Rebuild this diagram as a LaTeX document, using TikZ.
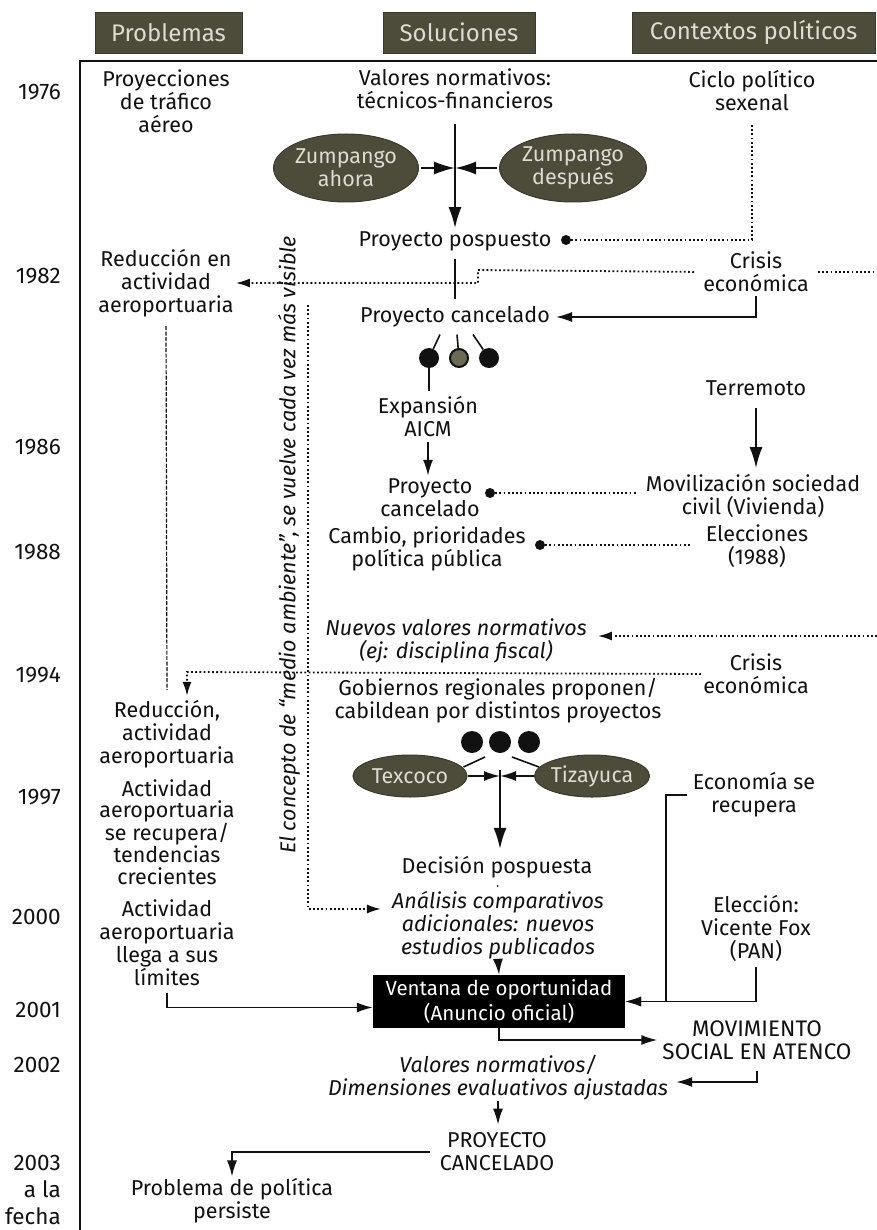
\documentclass[tikz,border=0pt]{standalone}
\usepackage{fontspec}
\setmainfont{Fira Sans}
\usetikzlibrary{shapes.geometric,arrows.meta,calc}
\definecolor{oliv}{HTML}{4D4B3A}
\definecolor{olivd}{HTML}{3A392B}
\definecolor{olivm}{HTML}{6B6A55}
\definecolor{lighttxt}{HTML}{DCDCD2}
\definecolor{ink}{HTML}{111111}
\newcommand\fs{\fontsize{21.5}{23}\selectfont}
\newcommand\hfs{\fontsize{24}{26}\selectfont}
\begin{document}
\begin{tikzpicture}[x=1pt,y=-1pt,
  txt/.style={font=\fs,align=center,inner sep=0pt,text=ink},
  itx/.style={font=\fs\itshape,align=center,inner sep=0pt,text=ink},
  yr/.style={font=\fontsize{22.5}{27}\selectfont,anchor=east,inner sep=0pt,text=ink},
  hdr/.style={draw=olivd,line width=0.8pt,fill=oliv,text=lighttxt,font=\hfs,inner sep=0pt,minimum height=41pt},
  ell/.style={ellipse,draw=olivd,line width=1pt,fill=oliv,text=lighttxt,font=\fs,align=center,inner sep=0pt},
  bdot/.style={circle,fill=ink,inner sep=0pt,minimum size=20pt},
  sdot/.style={circle,fill=ink,inner sep=0pt,minimum size=10pt},
  ln/.style={line width=1.6pt,draw=ink},
  arr/.style={ln,-{Latex[length=16pt,width=10pt]}},
  barr/.style={line width=2pt,draw=ink,-{Latex[length=21pt,width=13pt]}},
  dln/.style={draw=ink,line width=1.8pt,dash pattern=on 1.8pt off 2.4pt},
  darr/.style={dln,-{Latex[length=14pt,width=9pt]}},
  vdash/.style={draw=ink,line width=1.2pt,dash pattern=on 4pt off 1.5pt},
]
\useasboundingbox (0,0) rectangle (877,1230);
\fill[white] (0,0) rectangle (877,1230);

% headers
\node[hdr,minimum width=147pt] (h1) at (168.5,32.5) {Problemas};
\node[hdr,minimum width=152pt] (h2) at (459,32.5) {Soluciones};
\node[hdr,minimum width=243pt] (h3) at (753.5,32.5) {Contextos políticos};

% frame
\draw[line width=1.4pt,ink] (80,1230) -- (80,61) -- (877,61);

% years
\node[yr] (y1) at (61,92) {1976};
\node[yr] (y2) at (61,276) {1982};
\node[yr] (y3) at (61,447) {1986};
\node[yr] (y4) at (61,552) {1988};
\node[yr] (y5) at (61,675) {1994};
\node[yr] (y6) at (61,797) {1997};
\node[yr] (y7) at (61,917) {2000};
\node[yr] (y8) at (61,1010) {2001};
\node[yr] (y9) at (61,1065) {2002};
\node[yr,align=right] (y10) at (61,1190) {2003\\a la\\fecha};

% column: problemas
\node[txt] (p1) at (166,101) {Proyecciones\\de tráfico\\aéreo};
\node[txt] (p2) at (166,283) {Reducción en\\actividad\\aeroportuaria};
\node[txt] (p3) at (167,734) {Reducción,\\actividad\\aeroportuaria};
\node[txt,font=\fontsize{21.5}{21.2}\selectfont] (p4) at (167,832) {Actividad\\aeroportuaria\\se recupera/\\tendencias\\crecientes};
\node[txt] (p5) at (167,943) {Actividad\\aeroportuaria\\llega a sus\\límites};
\node[txt] (p6) at (232,1201) {Problema de política\\persiste};

% column: soluciones
\node[txt] (s1) at (455,89) {Valores normativos:\\técnicos-financieros};
\node[ell,inner xsep=-10pt,minimum width=145pt,minimum height=68pt] (za) at (346,168) {Zumpango\\ahora};
\node[ell,inner xsep=-10pt,minimum width=147pt,minimum height=68pt] (zd) at (573,168) {Zumpango\\después};
\coordinate (j1) at (455,168);
\node[txt] (s2) at (455,241) {Proyecto pospuesto};
\node[sdot] (d1) at (566,240) {};
\node[txt] (s3) at (455,317) {Proyecto cancelado};
\node[bdot] (b1) at (429,358) {};
\node[bdot,fill=olivm,draw=ink,line width=2pt,minimum size=18pt] (b2) at (459,358) {};
\node[bdot] (b3) at (489,358) {};
\node[txt] (s4) at (428,417) {Expansión\\AICM};
\node[txt] (s5) at (430,498) {Proyecto\\cancelado};
\node[sdot] (d2) at (490,493) {};
\node[txt] (s6) at (427,549) {Cambio, prioridades\\política pública};
\node[sdot] (d3) at (540,545) {};
\node[itx] (s7) at (456,641) {Nuevos valores normativos\\(ej: disciplina fiscal)};
\node[txt] (s8) at (498,701) {Gobiernos regionales proponen/\\cabildean por distintos proyectos};
\node[bdot,minimum size=22pt] (c1) at (472,742) {};
\node[bdot,minimum size=22pt] (c2) at (500,742) {};
\node[bdot,minimum size=22pt] (c3) at (529,742) {};
\node[ell,inner xsep=-5pt,minimum width=114pt,minimum height=42pt] (tx) at (410,776) {Texcoco};
\node[ell,inner xsep=-5pt,minimum width=115pt,minimum height=42pt] (tz) at (592,776) {Tizayuca};
\coordinate (j2) at (500,776);
\node[txt] (s9) at (497,867) {Decisión pospuesta};
\node[itx] (s10) at (498,925) {Análisis comparativos\\adicionales: nuevos\\estudios publicados};
\node[fill=black,text=white,font=\fontsize{20.5}{24.5}\selectfont,align=center,inner sep=0pt,minimum width=252pt,minimum height=53pt] (vw) at (499,1001.5) {Ventana de oportunidad\\(Anuncio oficial)};
\node[itx] (s11) at (498,1078) {Valores normativos/\\Dimensiones evaluativos ajustadas};
\node[txt] (s12) at (497,1152) {PROYECTO\\CANCELADO};

% column: contextos
\node[txt] (k1) at (752,91) {Ciclo político\\sexenal};
\node[txt] (k2) at (756,272) {Crisis\\económica};
\node[txt] (k3) at (756,388) {Terremoto};
\node[txt] (k4) at (753,496) {Movilización sociedad\\civil (Vivienda)};
\node[txt] (k5) at (757,546) {Elecciones\\(1988)};
\node[txt] (k6) at (756,674) {Crisis\\económica};
\node[txt] (k7) at (754,795) {Economía se\\recupera};
\node[txt] (k8) at (756,928) {Elección:\\Vicente Fox\\(PAN)};
\node[txt,font=\fontsize{22.5}{23.5}\selectfont] (k9) at (757,1040) {MOVIMIENTO\\SOCIAL EN ATENCO};

% rotated note
\node[itx,rotate=90] (env) at (289,545) {El concepto de “medio ambiente”, se vuelve cada vez más visible};

% helper coordinates
\coordinate (q1) at (478,270);
\coordinate (re1) at (877,272);
\coordinate (re2) at (877,636);
\coordinate (q2) at (187,672);
\coordinate (q3) at (308,305);
\coordinate (q5) at (666,795);

% connectors
\draw[barr,shorten <=15pt,shorten >=3pt] (s1.south) -- (s2.north);
\draw[barr,shorten <=2pt] (za.east) -- (j1);
\draw[barr,shorten <=2pt] (zd.west) -- (j1);
\draw[dln,shorten >=14pt] (d1) -- (d1 -| k1.south) -- (k1.south);
\draw[ln,shorten <=8pt,shorten >=7pt] (s2.south) -- (s3.north);
\draw[arr,shorten <=4pt,shorten >=6pt] (k2.south) |- (s3.east);
\draw[darr,shorten <=9pt,shorten >=2pt] (k2.west) -- (q1) |- (p2.east);
\draw[dln,shorten <=9pt] (k2.east) -- (re1);
\draw[ln] ($(s3.south)+(-15,7)$) -- (b1);
\draw[ln] ($(s3.south)+(2,7)$) -- (b2);
\draw[ln] ($(s3.south)+(18,7)$) -- (b3);
\draw[ln,shorten >=6pt] (b1) -- (b1 |- s4.north);
\draw[arr,shorten <=5pt,shorten >=3pt] (s4.south) -- (s4.south |- s5.north);
\draw[dln,shorten >=9pt] (d2) -- (d2 -| k4.west);
\draw[barr,shorten <=12pt,shorten >=6pt] (k3.south) -- (k3.south |- k4.north);
\draw[dln,shorten >=15pt] (d3) -- (d3 -| k5.west);
\draw[darr,shorten >=11pt] (re2) -- (re2 -| s7.east);
\draw[darr,shorten <=2pt,shorten >=4pt] (k6.west) -- (q2) -- (q2 |- p3.north);
\draw[vdash,shorten <=9pt,shorten >=10pt] (p2.south) -- (p3.north);
\draw[darr,shorten >=11pt] (q3) |- ([yshift=16pt]s10.west);
\draw[ln] ($(c2)+(-15,15)$) -- ($(tx.east)+(-4,-9)$);
\draw[ln] ($(c2)+(12,15)$) -- ($(tz.west)+(5,-9)$);
\draw[arr] (tx.east) -- (j2);
\draw[arr] (tz.west) -- (j2);
\draw[barr,shorten >=7pt] ([yshift=6pt]j2) -- (j2 |- s9.north);
\draw[line width=1.2pt,ink,shorten <=7pt,shorten >=4pt] (s9.south) -- (s10.north);
\draw[arr] (s10.south) -- (vw.north);
\draw[arr,shorten <=7pt] (p5.south) |- ([yshift=-6pt]vw.west);
\draw[arr,shorten <=6pt] (k7.west) -- (q5) |- (vw.east);
\draw[arr,shorten <=6pt] (k8.south) |- (vw.east);
\draw[arr,shorten >=5pt] (vw.south) |- (k9.west);
\draw[arr,shorten <=11pt] (k9.south) |- ([xshift=8pt,yshift=-4pt]s11.east);
\draw[arr,shorten >=8pt] (s11.south) -- (s11.south |- s12.north);
\draw[arr,shorten <=10pt,shorten >=2pt] (s12.west) -| (p6.north);
\end{tikzpicture}
\end{document}
